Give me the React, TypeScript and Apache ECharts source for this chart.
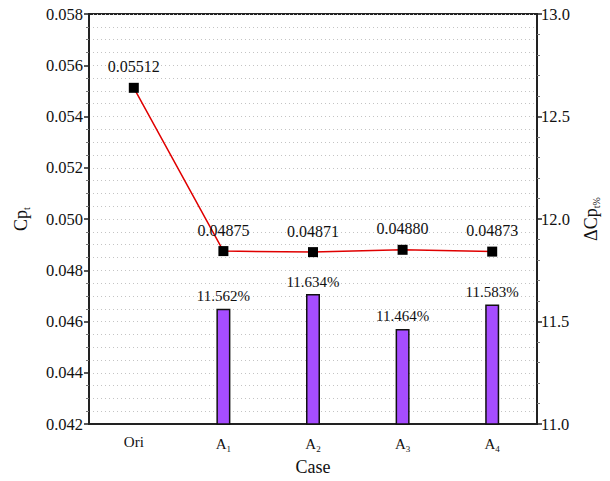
import React, { useEffect, useRef } from "react";
import * as echarts from "echarts";

const categories = ["Ori", "A1", "A2", "A3", "A4"];
const cpValues = [0.05512, 0.04875, 0.04871, 0.0488, 0.04873];
const deltaValues: (number | null)[] = [null, 11.562, 11.634, 11.464, 11.583];

const FONT = "Liberation Serif";

export default function App() {
  const ref = useRef<HTMLDivElement>(null);
  useEffect(() => {
    if (!ref.current) return;
    const chart = echarts.init(ref.current, undefined, { renderer: "svg" });
    chart.setOption({
      animation: false,
      backgroundColor: "#fff",
      textStyle: { fontFamily: FONT },
      grid: {
        left: 89,
        right: 73,
        top: 14,
        bottom: 47,
        show: true,
        borderColor: "#222",
        borderWidth: 2,
      },
      xAxis: {
        type: "category",
        data: categories,
        boundaryGap: true,
        axisLine: { lineStyle: { color: "#222", width: 2 } },
        axisTick: { show: false },
        axisLabel: {
          color: "#111",
          margin: 10,
          formatter: (v: string) => (v === "Ori" ? "{a|Ori}" : `{a|${v[0]}}{s|${v.slice(1)}}`),
          rich: {
            a: { fontSize: 15, fontFamily: FONT, color: "#111" },
            s: { fontSize: 9, fontFamily: FONT, color: "#111", padding: [10, 0, 0, 0] },
          },
        },
        name: "Case",
        nameLocation: "middle",
        nameGap: 33,
        nameTextStyle: { fontSize: 18, color: "#111", fontFamily: FONT },
      },
      yAxis: [
        {
          type: "value",
          min: 0.042,
          max: 0.058,
          interval: 0.002,
          axisLine: { show: true, lineStyle: { color: "#222", width: 2 } },
          axisTick: { show: true, length: 5, lineStyle: { color: "#222", width: 1.5 } },
          minorTick: { show: true, splitNumber: 4, length: 3, lineStyle: { color: "#777" } },
          splitLine: { show: true, lineStyle: { color: "#c4c4c4", type: [1, 3], width: 1 } },
          minorSplitLine: { show: true, lineStyle: { color: "#c4c4c4", type: [1, 3], width: 1 } },
          axisLabel: {
            color: "#111",
            fontSize: 16.5,
            fontFamily: FONT,
            margin: 6,
            formatter: (v: number) => v.toFixed(3),
          },
          name: "{a|Cp}{s|t}",
          nameLocation: "middle",
          nameGap: 58,
          nameRotate: 90,
          nameTextStyle: {
            rich: {
              a: { fontSize: 18, fontFamily: FONT, color: "#111" },
              s: { fontSize: 10, fontFamily: FONT, color: "#111", padding: [10, 0, 0, 0] },
            },
          },
        },
        {
          type: "value",
          min: 11,
          max: 13,
          interval: 0.5,
          position: "right",
          axisLine: { show: true, lineStyle: { color: "#222", width: 2 } },
          axisTick: { show: true, length: 5, lineStyle: { color: "#222", width: 1.5 } },
          minorTick: { show: true, splitNumber: 5, length: 3, lineStyle: { color: "#777" } },
          splitLine: { show: false },
          axisLabel: {
            color: "#111",
            fontSize: 16.5,
            fontFamily: FONT,
            margin: 4,
            formatter: (v: number) => v.toFixed(1),
          },
          name: "{a|ΔCp}{s|t%}",
          nameLocation: "middle",
          nameGap: 44,
          nameRotate: 90,
          nameTextStyle: {
            rich: {
              a: { fontSize: 18, fontFamily: FONT, color: "#111" },
              s: { fontSize: 10, fontFamily: FONT, color: "#111", padding: [10, 0, 0, 0] },
            },
          },
        },
      ],
      series: [
        {
          type: "bar",
          yAxisIndex: 1,
          data: deltaValues,
          barWidth: 14,
          itemStyle: { color: "#a64dff", borderColor: "#111", borderWidth: 1.5 },
          label: {
            show: true,
            position: "top",
            distance: 5,
            color: "#111",
            fontSize: 15,
            fontFamily: FONT,
            formatter: (p: any) => (p.value == null ? "" : `${Number(p.value).toFixed(3)}%`),
          },
          z: 1,
        },
        {
          type: "line",
          yAxisIndex: 0,
          data: cpValues,
          symbol: "rect",
          symbolSize: 10,
          lineStyle: { color: "#e00000", width: 1.5 },
          itemStyle: { color: "#000" },
          label: {
            show: true,
            position: "top",
            distance: 8,
            color: "#111",
            fontSize: 16,
            fontFamily: FONT,
            formatter: (p: any) => Number(p.value).toFixed(5),
          },
          z: 3,
        },
      ],
    });
    return () => chart.dispose();
  }, []);
  return (
    <div
      ref={ref}
      style={{ position: "absolute", left: 0, top: 0, width: 610, height: 481 }}
    />
  );
}
